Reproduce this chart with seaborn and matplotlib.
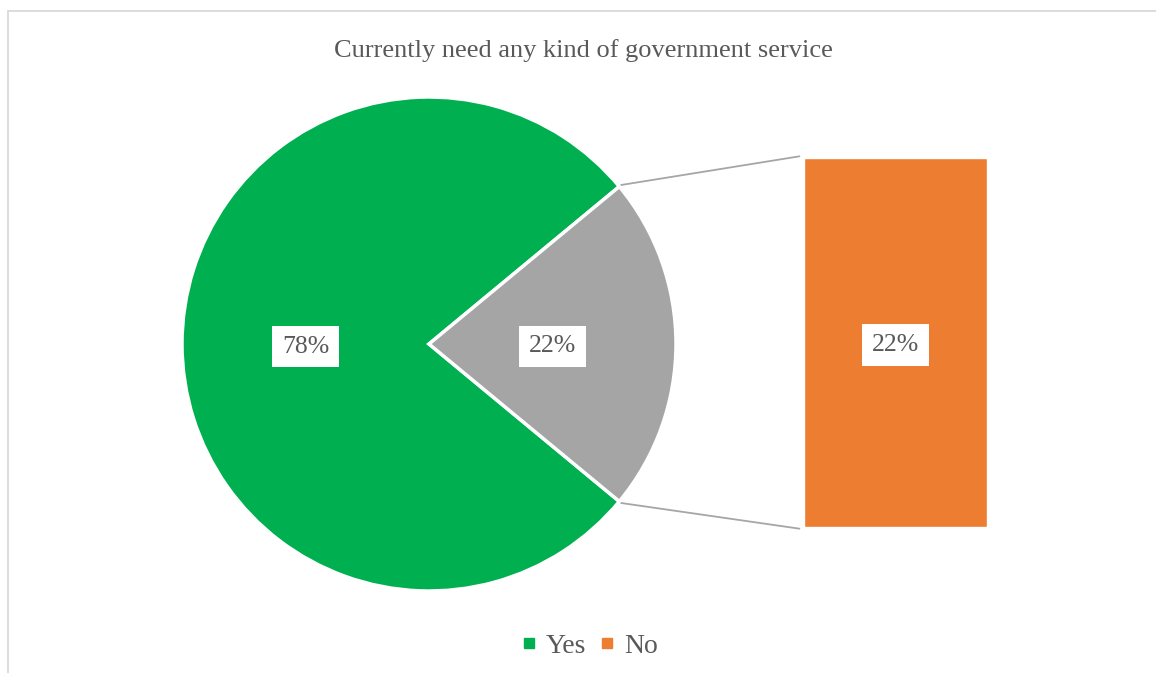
import matplotlib
matplotlib.use("Agg")
import matplotlib.pyplot as plt
import seaborn as sns
import pandas as pd
import numpy as np
from matplotlib.patches import ConnectionPatch
from matplotlib.lines import Line2D

# Data
categories = ['Yes', 'No']
shares = [78, 22]
bar_label = ['No']
bar_values = [22]

green = '#00B050'
grey = '#A5A5A5'
orange = '#ED7D31'
text_col = '#595959'

sns.set_theme(style='white')
plt.rcParams['font.family'] = ['Liberation Serif', 'DejaVu Serif']

W, H = 1156, 673
fig = plt.figure(figsize=(W / 100, H / 100), dpi=100)

# background axes in pixel coordinates for the frame lines
bg = fig.add_axes([0, 0, 1, 1])
bg.set_xlim(0, W)
bg.set_ylim(H, 0)
bg.axis('off')
bg.plot([7.5, W], [10.5, 10.5], color='#D9D9D9', lw=1.3)
bg.plot([7.5, 7.5], [10.5, H], color='#D9D9D9', lw=1.3)

# pie
cx, cy, r = 429, 344, 247
ax_pie = fig.add_axes([(cx - r) / W, (H - cy - r) / H, 2 * r / W, 2 * r / H])
half = shares[1] / 100 * 360 / 2
wedges, texts, autotexts = ax_pie.pie(
    shares, colors=[green, grey], startangle=half, counterclock=True,
    autopct='%1.0f%%', pctdistance=0.5,
    wedgeprops=dict(edgecolor='white', linewidth=2.5),
    textprops=dict(color=text_col, fontsize=18.5, va='center_baseline')
)
for t in autotexts:
    t.set_bbox(dict(facecolor='white', edgecolor='none', boxstyle='square,pad=0.38'))
ax_pie.set_xlim(-1, 1)
ax_pie.set_ylim(-1, 1)

# bar of the "No" part
bx0, bx1, by0, by1 = 804, 987, 158, 527
ax_bar = fig.add_axes([bx0 / W, (H - by1) / H, (bx1 - bx0) / W, (by1 - by0) / H])
df_bar = pd.DataFrame({'cat': bar_label, 'val': bar_values})
sns.barplot(data=df_bar, x='cat', y='val', color=orange, saturation=1, width=0.8, ax=ax_bar)
ax_bar.set_xlim(-0.4, 0.4)
ax_bar.set_ylim(0, bar_values[0])
ax_bar.axis('off')
ax_bar.text(0, bar_values[0] / 2, f'{bar_values[0]}%', ha='center', va='center_baseline',
            color=text_col, fontsize=18.5,
            bbox=dict(facecolor='white', edgecolor='none', boxstyle='square,pad=0.38'))

# connector lines
th = np.deg2rad(half)
for sgn, yb in [(1, bar_values[0]), (-1, 0)]:
    con = ConnectionPatch(xyA=(np.cos(th) * 1.01, sgn * np.sin(th) * 1.01), coordsA=ax_pie.transData,
                          xyB=(-0.42, yb + sgn * 0.1), coordsB=ax_bar.transData,
                          color='#A6A6A6', lw=1.3)
    fig.add_artist(con)

# title
fig.text(583 / W, 1 - 48 / H, 'Currently need any kind of government service',
         ha='center', va='center_baseline', fontsize=19, color=text_col)

# legend
handles = [Line2D([], [], marker='s', ls='none', color=c, markersize=7) for c in [green, orange]]
fig.legend(handles, categories, loc='center', bbox_to_anchor=(588 / W, 1 - 646 / H),
           ncol=2, frameon=False, fontsize=20, labelcolor=text_col,
           handletextpad=0.2, columnspacing=0.35, handlelength=0.8)

fig.savefig('out.png', dpi=100)
